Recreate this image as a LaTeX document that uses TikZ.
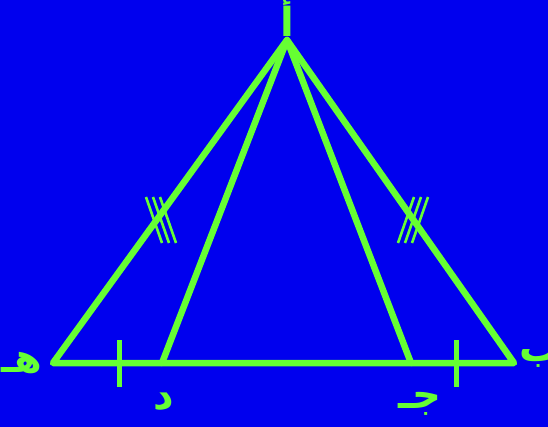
\documentclass[tikz,border=0pt]{standalone}
\usepackage{fontspec}
\newfontfamily\arabicfont[Script=Arabic]{DejaVu Sans Bold}
\TeXXeTstate=1
\definecolor{bg}{HTML}{0000EE}
\definecolor{gr}{HTML}{66FF33}
\begin{document}
\begin{tikzpicture}[x=1pt,y=-1pt,
  side/.style={draw=gr,line width=6.5pt,line cap=round,line join=round},
  tick/.style={draw=gr,line width=5pt},
  thin/.style={draw=gr,line width=2.6pt},
  lab/.style={text=gr,font=\arabicfont\fontsize{40}{40}\selectfont,inner sep=0pt}]
\useasboundingbox (0,0) rectangle (548,427);
\clip (0,0) rectangle (548,427);
\fill[bg] (0,0) rectangle (548,427);
\coordinate (A) at (287,40);
\coordinate (B) at (514,363);
\coordinate (C) at (411,363);
\coordinate (D) at (162,363);
\coordinate (E) at (53,363);
\draw[side] (A) -- (E) -- (B) -- cycle;
\draw[side] (A) -- (D);
\draw[side] (A) -- (C);
% base ticks
\coordinate (t1a) at (119,340); \coordinate (t1b) at (119,387);
\coordinate (t2a) at (456,340); \coordinate (t2b) at (456,387);
\draw[tick] (t1a) -- (t1b);
\draw[tick] (t2a) -- (t2b);
% triple ticks left
\foreach \d in {0,7,14}{
  \draw[thin] (146+\d,197) -- (162+\d,243);
}
% triple ticks right
\foreach \d in {0,7,14}{
  \draw[thin] (428-\d,197) -- (412-\d,243);
}
\node[lab] (la) at (287,17) {\beginR أ\endR};
\node[lab] (lb) at (540,358) {\beginR ب\endR};
\node[lab] (le) at (22,363) {\beginR هـ\endR};
\node[lab] (ld) at (164,402) {\beginR د\endR};
\node[lab] (lc) at (420,404) {\beginR جـ\endR};
\end{tikzpicture}
\end{document}
